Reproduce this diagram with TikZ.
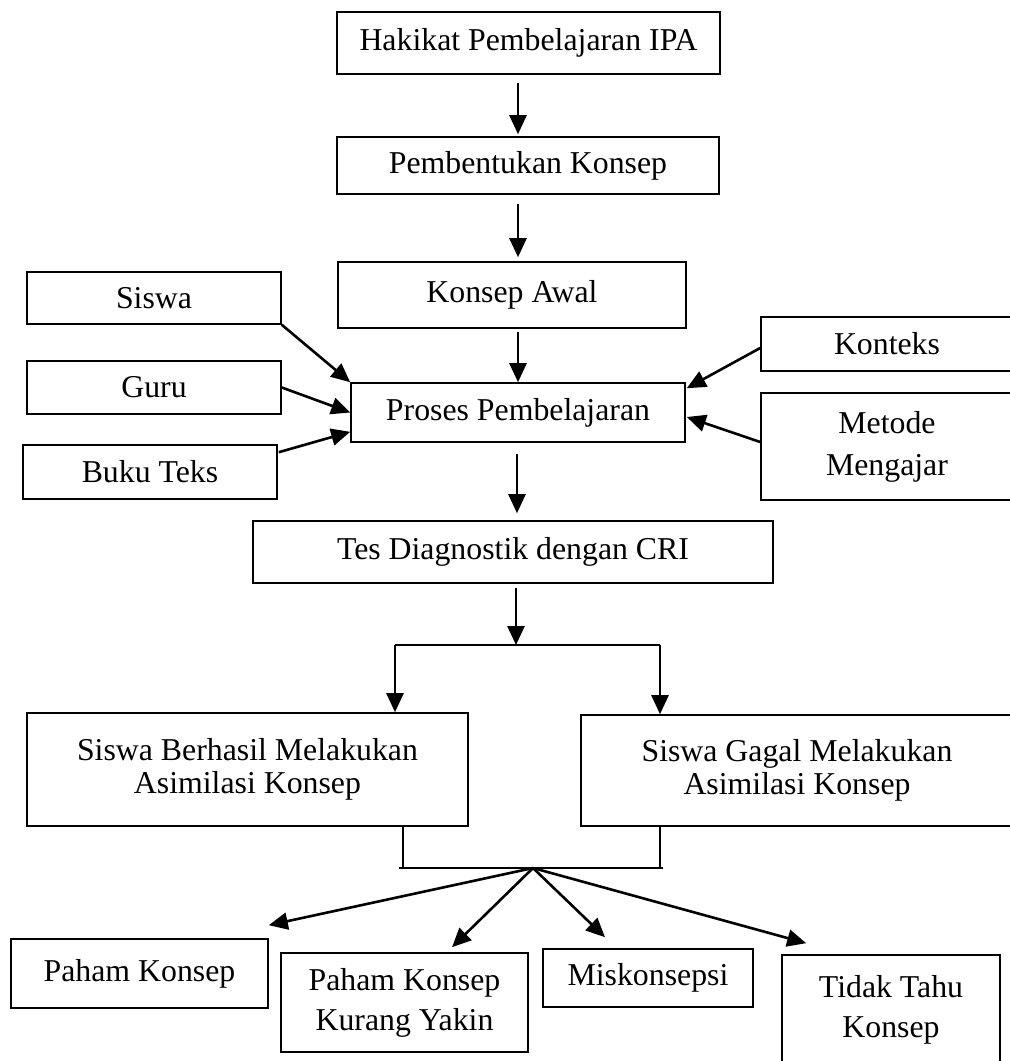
\documentclass[tikz,border=0pt]{standalone}
\usepackage{fontspec}
\setmainfont{Liberation Serif}
\usetikzlibrary{arrows.meta,calc}
\begin{document}
\begin{tikzpicture}[x=1pt,y=-1pt,
  box/.style={draw, line width=1.6pt, inner sep=0pt, align=center, font=\fontsize{31.8pt}{40pt}\selectfont},
  arr/.style={line width=2.6pt, -{Triangle[width=17pt,length=19pt]}},
  thinline/.style={line width=1.3pt},
  barline/.style={line width=2.4pt}]
\useasboundingbox (0,0) rectangle (1010,1061);
\fill[white] (0,0) rectangle (1010,1061);

\node[box, minimum width=383pt, minimum height=62pt] (hak) at (528.5,43) {Hakikat Pembelajaran IPA};
\node[box, minimum width=382pt, minimum height=57pt] (pem) at (528,165.5) {Pembentukan Konsep};
\node[box, minimum width=348pt, minimum height=66pt] (awal) at (512,295) {Konsep Awal};
\node[box, minimum width=254pt, minimum height=52pt] (siswa) at (154,298) {Siswa};
\node[box, minimum width=254pt, minimum height=53pt] (guru) at (154,387.5) {Guru};
\node[box, minimum width=254pt, minimum height=54pt] (buku) at (150,472) {Buku Teks};
\node[box, minimum width=334pt, minimum height=59pt] (proses) at (518,412.5) {Proses Pembelajaran};
\node[box, minimum width=252pt, minimum height=54pt] (konteks) at (887,344) {Konteks};
\node[box, minimum width=252pt, minimum height=107pt] (metode) at (887,446.5) {Metode\\[2pt]Mengajar};
\node[box, minimum width=520pt, minimum height=62pt] (tes) at (513,552) {Tes Diagnostik dengan CRI};
\node[box, minimum width=441pt, minimum height=113pt] (berhasil) at (247.5,769.5) {Siswa Berhasil Melakukan\\[-7pt]Asimilasi Konsep};
\node[box, minimum width=432pt, minimum height=111pt] (gagal) at (797,770.5) {Siswa Gagal Melakukan\\[-7pt]Asimilasi Konsep};
\node[box, minimum width=257pt, minimum height=69pt] (paham) at (139.5,973.5) {Paham Konsep};
\node[box, minimum width=247pt, minimum height=99pt] (kurang) at (404.5,1002.5) {Paham Konsep\\Kurang Yakin};
\node[box, minimum width=210pt, minimum height=58pt] (misk) at (648,978) {Miskonsepsi};
\node[box, minimum width=218pt, minimum height=110pt] (tidak) at (891,1010) {Tidak Tahu\\Konsep};

% main vertical flow
\draw[arr] ($(hak.south)+(-10.5,8)$) -- ($(pem.north)+(-10,-2)$);
\draw[arr] ($(pem.south)+(-10,9)$) -- ($(awal.north)+(6,-4)$);
\draw[arr] ($(awal.south)+(6,3)$) -- (proses.north);
\draw[arr] ($(proses.south)+(-1,11)$) -- ($(tes.north)+(4,-7)$);

% side inputs
\draw[arr] (siswa.south east) -- (proses.north west);
\draw[arr] (guru.east) -- (proses.west);
\draw[arr] ($(buku.north east)+(1,8)$) -- ($(proses.south west)+(0,-11)$);
\draw[arr] ($(konteks.west)+(0,4)$) -- ($(proses.north east)+(1,6)$);
\draw[arr] ($(metode.west)+(0,-4.5)$) -- ($(proses.east)+(1,4.5)$);

% split to two results
\coordinate (split) at (516,645);
\coordinate (sl) at (395,645);
\coordinate (sr) at (660,645);
\draw[arr] ($(tes.south)+(3,4)$) -- (split);
\draw[barline] (sl) -- (sr);
\draw[arr] (sl) -- (sl |- berhasil.north);
\draw[arr] (sr) -- (sr |- gagal.north);

% join and fan out
\coordinate (bl) at (403,868);
\coordinate (br) at (660,868);
\coordinate (hub) at (533,868);
\draw[thinline] (bl |- berhasil.south) -- (bl);
\draw[thinline] (br |- gagal.south) -- (br);
\draw[barline] ($(bl)+(-4,0)$) -- ($(br)+(3,0)$);
\draw[arr] (hub) -- ($(paham.north east)+(0,-13)$);
\draw[arr] (hub) -- ($(kurang.north)+(47.5,-5)$);
\draw[arr] (hub) -- ($(misk.north)+(-43,-11)$);
\draw[arr] (hub) -- ($(tidak.north west)+(25,-11)$);
\end{tikzpicture}
\end{document}
